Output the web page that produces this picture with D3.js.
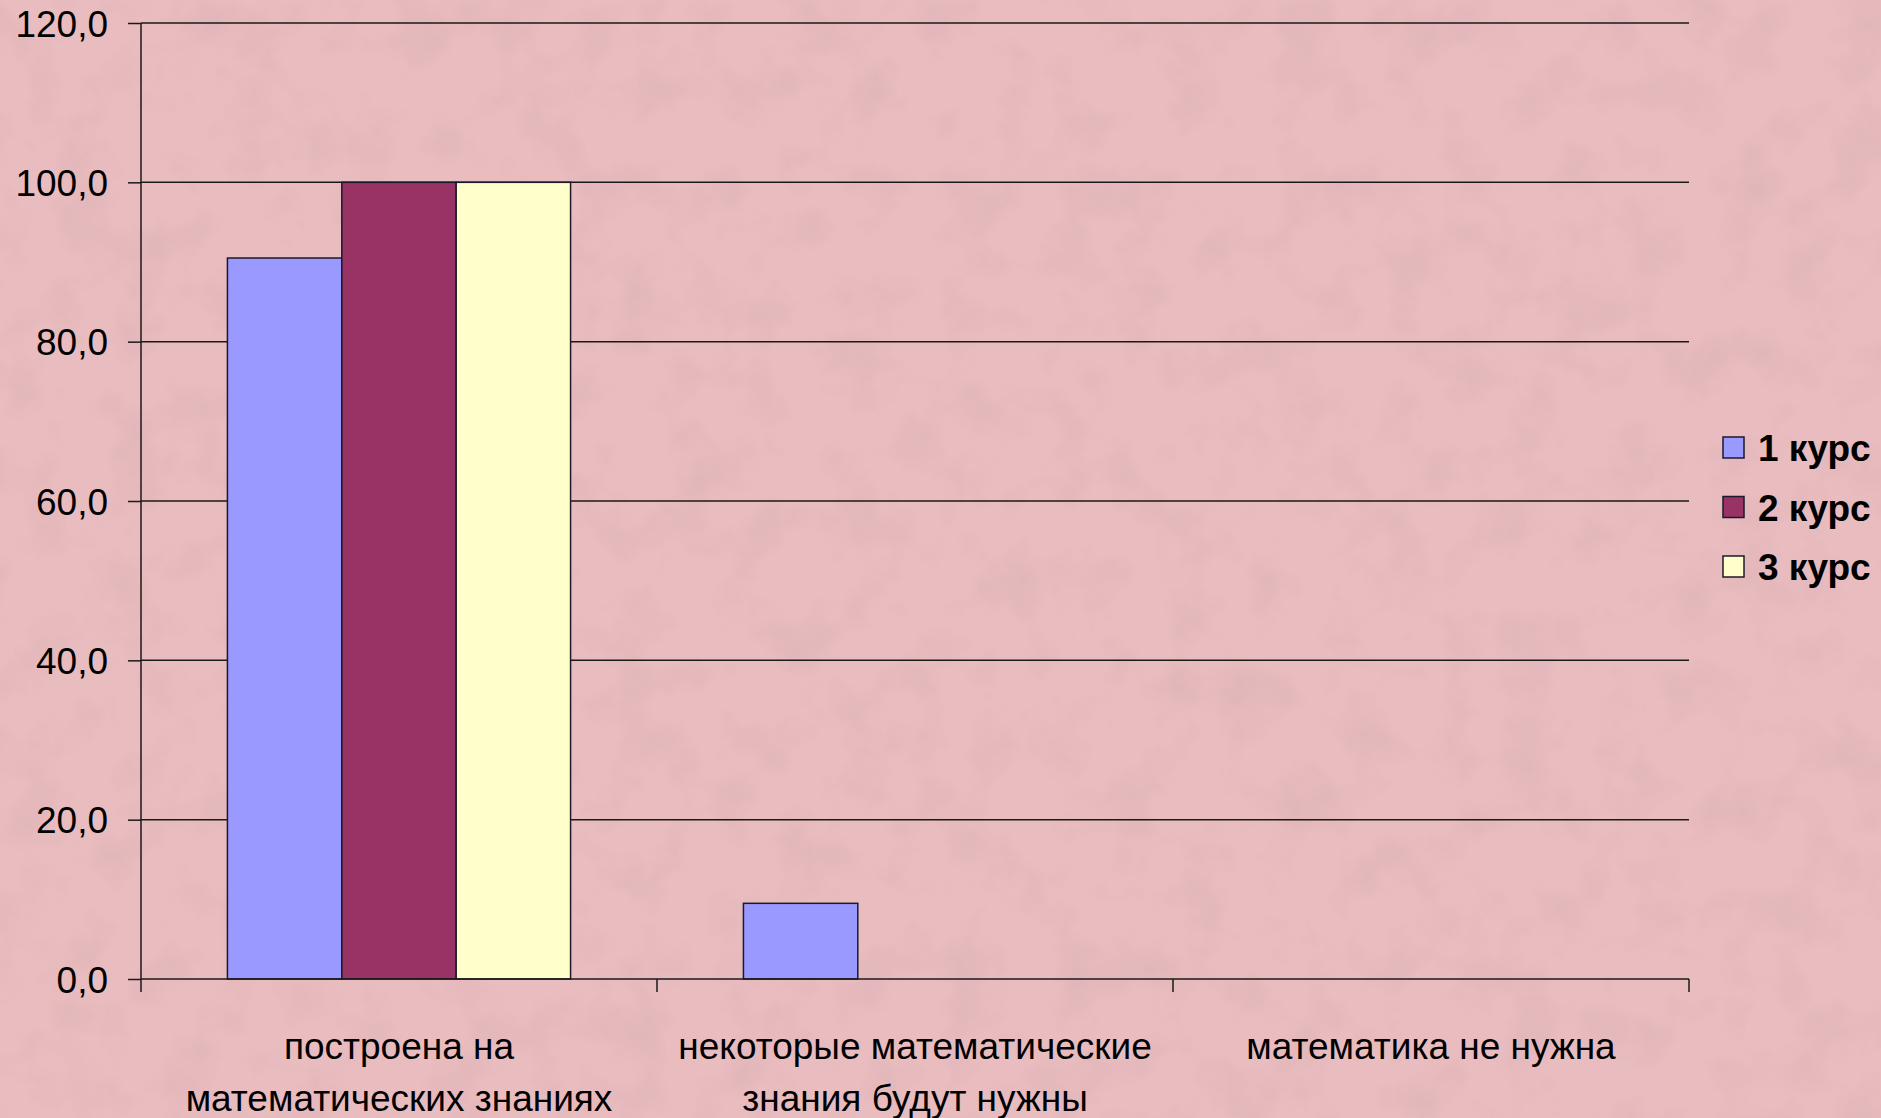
<!DOCTYPE html>
<html>
<head>
<meta charset="utf-8">
<script src="https://cdn.jsdelivr.net/npm/d3@7"></script>
<style>
  html, body { margin: 0; padding: 0; background: #e6b8bb; }
  svg { display: block; }
  text { font-family: "Liberation Sans", Arial, sans-serif; fill: #000; }
</style>
</head>
<body>
<svg id="canvas" width="1881" height="1118"></svg>
<script>
let categories = [
    ['построена на', 'математических знаниях'],
    ['некоторые математические', 'знания будут нужны'],
    ['математика не нужна']
]
let seriesNames = ['1 курс', '2 курс', '3 курс']
let course1 = [90.5, 9.5, 0]
let course2 = [100, 0, 0]
let course3 = [100, 0, 0]
let yTicks = [0, 20, 40, 60, 80, 100, 120]

let colors = ['#9999ff', '#993366', '#ffffcc']
let seriesValues = [course1, course2, course3]

let width = 1881
let height = 1118
let plotLeft = 141
let plotRight = 1689
let plotTop = 23
let plotBottom = 979

let canvas = d3.select('#canvas')

// paper texture for the background
let defs = canvas.append('defs')
let filter = defs.append('filter').attr('id', 'paper')
    .attr('x', 0).attr('y', 0).attr('width', '100%').attr('height', '100%')
filter.append('feTurbulence')
    .attr('type', 'fractalNoise')
    .attr('baseFrequency', 0.018)
    .attr('numOctaves', 4)
    .attr('seed', 7)
    .attr('result', 'noise')
filter.append('feColorMatrix')
    .attr('in', 'noise')
    .attr('type', 'matrix')
    .attr('values', '0 0 0 0 0.55  0 0 0 0 0.35  0 0 0 0 0.38  0 0 0 -1.4 0.75')
    .attr('result', 'tint')
filter.append('feComposite').attr('in', 'tint').attr('in2', 'SourceGraphic').attr('operator', 'in')

canvas.append('rect').attr('width', width).attr('height', height).attr('fill', '#e9bcbf')
canvas.append('rect').attr('width', width).attr('height', height).attr('fill', '#fff')
    .attr('filter', 'url(#paper)').attr('opacity', 0.35)

let yScale = d3.scaleLinear()
    .domain([0, 120])
    .range([plotBottom, plotTop])

let xScale = d3.scaleBand()
    .domain(d3.range(categories.length))
    .range([plotLeft, plotRight])
    .paddingInner(0.335)
    .paddingOuter(0.1675)

let xSub = d3.scaleBand()
    .domain(d3.range(seriesNames.length))
    .range([0, xScale.bandwidth()])

// gridlines
canvas.append('g')
    .selectAll('line')
    .data(yTicks.filter((t) => t > 0))
    .enter()
    .append('line')
    .attr('x1', plotLeft)
    .attr('x2', plotRight)
    .attr('y1', (t) => yScale(t))
    .attr('y2', (t) => yScale(t))
    .attr('stroke', '#1a1a1a')
    .attr('stroke-width', 1.5)

// y axis
let yAxis = d3.axisLeft(yScale)
    .tickValues(yTicks)
    .tickSize(13)
    .tickPadding(20)
    .tickFormat((d) => d3.format('.1f')(d).replace('.', ','))

let yG = canvas.append('g')
    .attr('transform', 'translate(' + plotLeft + ',0)')
    .call(yAxis)
yG.select('.domain').remove()
yG.selectAll('.tick line').attr('stroke', '#1a1a1a').attr('stroke-width', 1.5)
yG.selectAll('.tick text')
    .style('font-size', '37px')
    .attr('dy', '0.36em')

canvas.append('line')
    .attr('x1', plotLeft).attr('x2', plotLeft)
    .attr('y1', plotTop).attr('y2', plotBottom + 13)
    .attr('stroke', '#1a1a1a').attr('stroke-width', 1.5)

// bars
let groups = canvas.append('g')
    .selectAll('g')
    .data(categories.map((c, i) => i))
    .enter()
    .append('g')
    .attr('transform', (i) => 'translate(' + xScale(i) + ',0)')

groups.selectAll('rect')
    .data((i) => seriesValues.map((s, j) => ({ series: j, value: s[i] })))
    .enter()
    .filter((d) => d.value > 0)
    .append('rect')
    .attr('x', (d) => xSub(d.series))
    .attr('y', (d) => yScale(d.value))
    .attr('width', xSub.bandwidth())
    .attr('height', (d) => yScale(0) - yScale(d.value))
    .attr('fill', (d) => colors[d.series])
    .attr('stroke', '#1a1a2a')
    .attr('stroke-width', 1.5)

// x axis
canvas.append('line')
    .attr('x1', plotLeft).attr('x2', plotRight)
    .attr('y1', plotBottom).attr('y2', plotBottom)
    .attr('stroke', '#1a1a1a').attr('stroke-width', 1.5)

let boundaries = categories.map((c, i) => xScale(i) + xScale.bandwidth() + xScale.step() * xScale.paddingInner() / 2)
canvas.append('g')
    .selectAll('line')
    .data(boundaries)
    .enter()
    .append('line')
    .attr('x1', (x) => x).attr('x2', (x) => x)
    .attr('y1', plotBottom).attr('y2', plotBottom + 13)
    .attr('stroke', '#1a1a1a').attr('stroke-width', 1.5)

let labels = canvas.append('g')
    .selectAll('text')
    .data(categories)
    .enter()
    .append('text')
    .attr('text-anchor', 'middle')
    .style('font-size', '37px')
    .attr('transform', (c, i) => 'translate(' + (xScale(i) + xScale.bandwidth() / 2) + ',' + 1059 + ')')

labels.selectAll('tspan')
    .data((c) => c)
    .enter()
    .append('tspan')
    .attr('x', 0)
    .attr('y', (line, k) => k * 52)
    .text((line) => line)

// legend
let legend = canvas.append('g')
    .selectAll('g')
    .data(seriesNames)
    .enter()
    .append('g')
    .attr('transform', (name, i) => 'translate(1723,' + (448 + i * 59.5) + ')')

legend.append('rect')
    .attr('x', 0).attr('y', -11)
    .attr('width', 21).attr('height', 21)
    .attr('fill', (name, i) => colors[i])
    .attr('stroke', '#1a1a2a').attr('stroke-width', 1.5)

legend.append('text')
    .attr('x', 35)
    .attr('y', 0)
    .attr('dy', '0.36em')
    .style('font-size', '37px')
    .style('font-weight', 'bold')
    .text((name) => name)
</script>
</body>
</html>
